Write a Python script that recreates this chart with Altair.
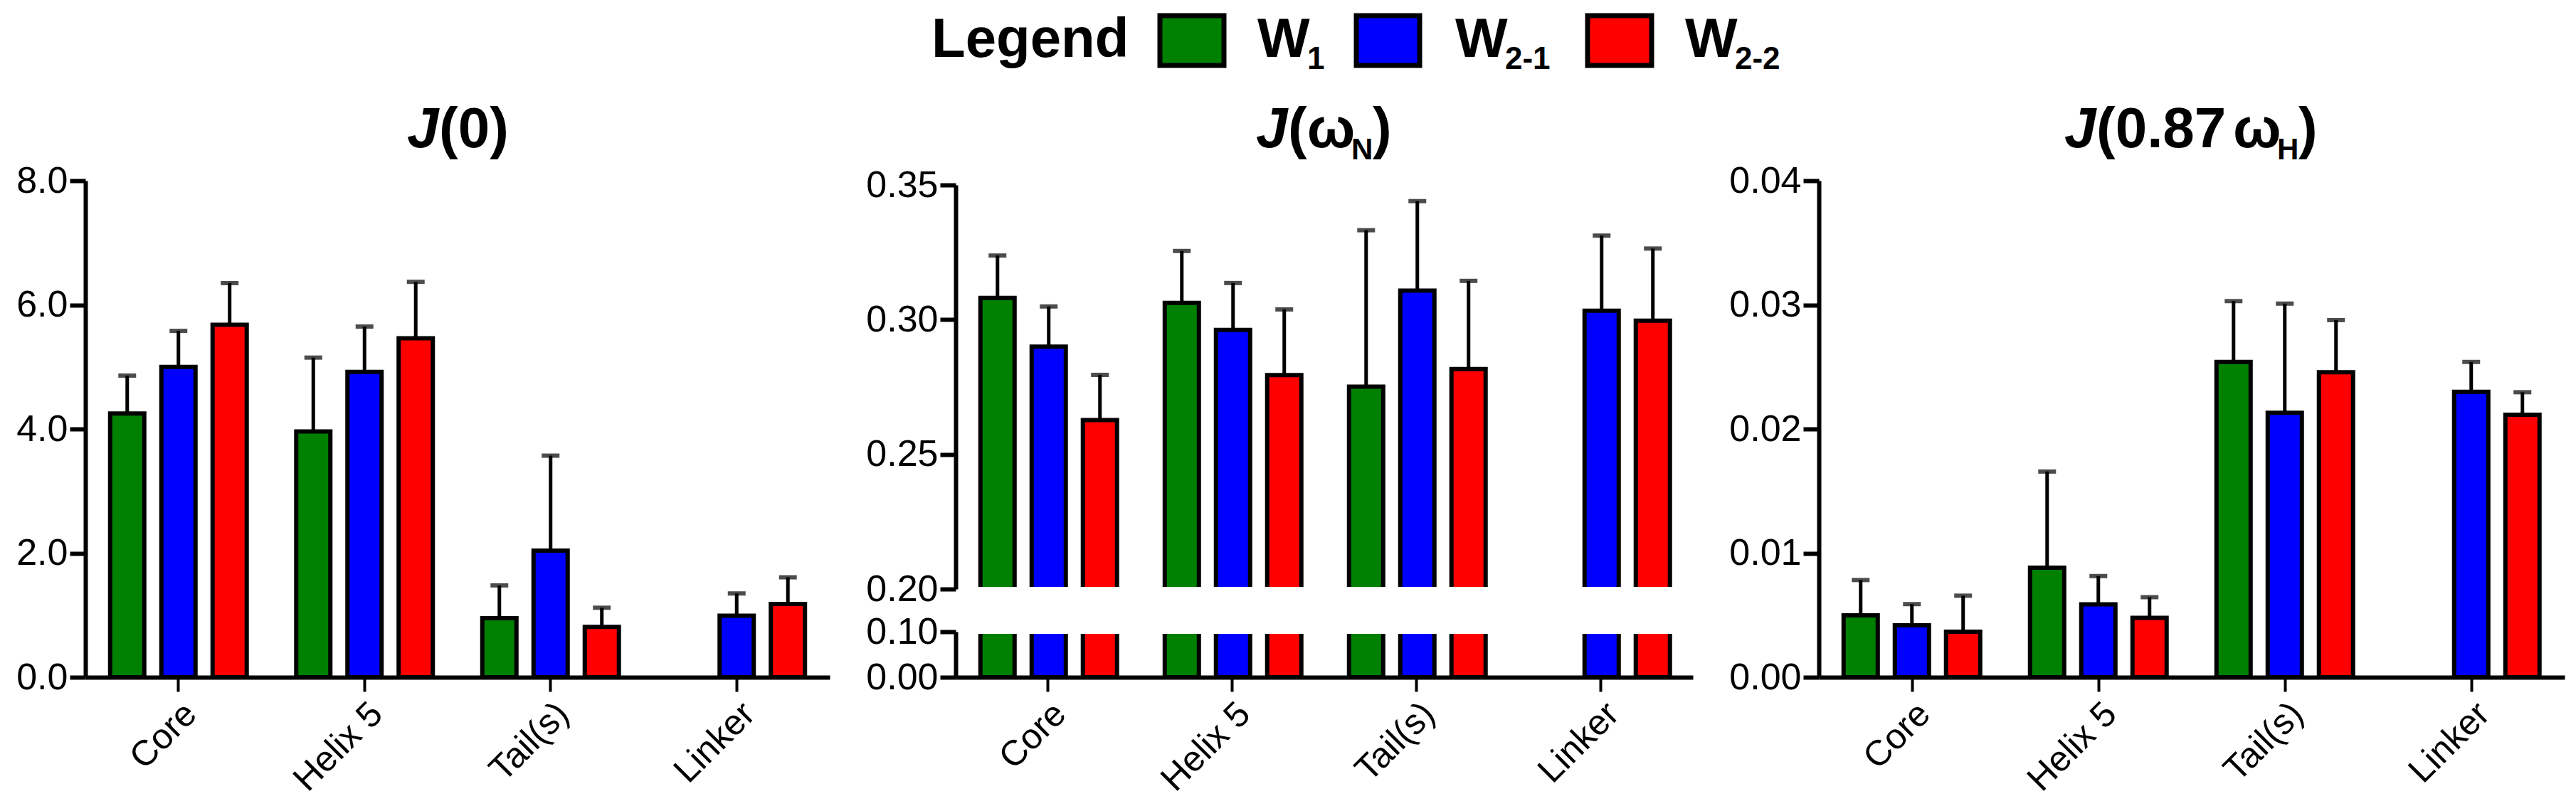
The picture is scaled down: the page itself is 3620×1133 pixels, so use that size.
import altair as alt
import pandas as pd

FONT = "Liberation Sans"

categories = ["Core", "Helix 5", "Tail(s)", "Linker"]
series = ["W1", "W2-1", "W2-2"]
colors = ["#008000", "#0000ff", "#ff0000"]

# J(0)
j0_w1 = [4.25, 3.96, 0.95, None]
j0_w1_err = [0.61, 1.19, 0.53, None]
j0_w21 = [5.00, 4.92, 2.04, 0.99]
j0_w21_err = [0.58, 0.73, 1.53, 0.36]
j0_w22 = [5.68, 5.46, 0.81, 1.18]
j0_w22_err = [0.67, 0.91, 0.31, 0.43]

# J(wN)
jn_w1 = [0.3081, 0.3062, 0.2751, None]
jn_w1_err = [0.0157, 0.0193, 0.0581, None]
jn_w21 = [0.2900, 0.2962, 0.3108, 0.3033]
jn_w21_err = [0.0149, 0.0174, 0.0332, 0.0279]
jn_w22 = [0.2627, 0.2794, 0.2817, 0.2996]
jn_w22_err = [0.0168, 0.0244, 0.0327, 0.0268]

# J(0.87 wH)
jh_w1 = [0.00499, 0.00883, 0.0254, None]
jh_w1_err = [0.00284, 0.00774, 0.0049, None]
jh_w21 = [0.00419, 0.00587, 0.0213, 0.0230]
jh_w21_err = [0.0017, 0.00228, 0.0088, 0.0024]
jh_w22 = [0.00367, 0.00478, 0.02457, 0.02114]
jh_w22_err = [0.0029, 0.00167, 0.0042, 0.00182]


def frame(vals, errs):
    rows = []
    for s, v, e in zip(series, vals, errs):
        for c, vv, ee in zip(categories, v, e):
            if vv is None:
                continue
            rows.append({"region": c, "series": s, "value": vv, "upper": vv + ee})
    return pd.DataFrame(rows)


df0 = frame([j0_w1, j0_w21, j0_w22], [j0_w1_err, j0_w21_err, j0_w22_err])
dfn = frame([jn_w1, jn_w21, jn_w22], [jn_w1_err, jn_w21_err, jn_w22_err])
dfh = frame([jh_w1, jh_w21, jh_w22], [jh_w1_err, jh_w21_err, jh_w22_err])

one = pd.DataFrame({"k": [0]})

x_axis = alt.Axis(title=None, labelAngle=-45, labelFontSize=50, labelFont=FONT,
                  labelColor="black", domainColor="black", domainWidth=6,
                  tickColor="black", tickWidth=4, tickSize=20, labelPadding=6,
                  grid=False)


def xenc():
    return alt.X("region:N", sort=categories,
                 scale=alt.Scale(domain=categories, paddingInner=0, paddingOuter=0),
                 axis=x_axis)


xo = alt.XOffset("series:N", sort=series,
                 scale=alt.Scale(domain=series, paddingInner=0.333, paddingOuter=0.483))
col = alt.Color("series:N", scale=alt.Scale(domain=series, range=colors), legend=None)


def yaxis(vals, fmt):
    return alt.Axis(title=None, values=vals, format=fmt, grid=False, orient="left",
                    labelFontSize=52, labelFont=FONT, labelColor="black",
                    domainColor="black", domainWidth=6, tickColor="black",
                    tickWidth=6, tickSize=22, labelPadding=3)


def txt(s, x, y, size, style="normal", align="left"):
    return alt.Chart(one).mark_text(
        text=s, font=FONT, fontSize=size, fontWeight="bold", fontStyle=style,
        align=align, baseline="alphabetic", color="black"
    ).encode(x=alt.value(x), y=alt.value(y))


def bar_layers(df, yscale, vals, fmt, y2zero=False, errors=True):
    y = alt.Y("value:Q", scale=yscale, axis=yaxis(vals, fmt))
    enc = dict(x=xenc(), xOffset=xo, y=y, color=col)
    if y2zero:
        enc["y2"] = alt.datum(0)
    layers = []
    if errors:
        rules = alt.Chart(df).mark_rule(color="black", strokeWidth=5).encode(
            x=xenc(), xOffset=xo, y=alt.Y("value:Q"), y2="upper:Q")
        caps = alt.Chart(df).mark_tick(color="black", thickness=6, size=25).encode(
            x=xenc(), xOffset=xo, y=alt.Y("upper:Q"))
        layers += [rules, caps]
    bars = alt.Chart(df).mark_bar(stroke="black", strokeWidth=6).encode(**enc)
    layers.append(bars)
    return layers


H = 698
TY = -47  # title baseline
SY = -30  # title subscript baseline

# Panel 1
W1 = 1046
l1 = bar_layers(df0, alt.Scale(domain=[0, 8], nice=False), [0, 2, 4, 6, 8], ".1f")
t1 = [txt("J", 452, TY, 80, "italic"), txt("(0)", 497, TY, 80)]
chart1 = alt.layer(*l1, *t1).properties(width=W1, height=H)

# Panel 2 (broken axis, one view with two y scales)
W2 = 1036
TOP_LO, TOP_HI = 574, 6
BOT_LO, BOT_HI = 698, 634
top_scale = alt.Scale(domain=[0.2, 0.35], range=[TOP_LO, TOP_HI], nice=False,
                      zero=False, clamp=True)
bot_scale = alt.Scale(domain=[0, 0.1], range=[BOT_LO, BOT_HI], nice=False, clamp=True)
top_layer = alt.layer(*bar_layers(dfn, top_scale, [0.2, 0.25, 0.3, 0.35], ".2f",
                                  y2zero=True))
bot_layer = alt.layer(*bar_layers(dfn, bot_scale, [0, 0.1], ".2f", errors=False))
gap = alt.Chart(one).mark_rect(fill="white").encode(
    x=alt.value(4), x2=alt.value(W2), y=alt.value(TOP_LO - 3),
    y2=alt.value(BOT_HI + 3))
t2 = [txt("J", 422, TY, 80, "italic"), txt("(ω", 467, TY, 80),
      txt("N", 556, SY, 42), txt(")", 586, TY, 80)]
legend_parts = [txt("Legend", -34, -174, 78)]
sw = [(287, 377), (563, 652), (888, 978)]
wx = [424, 702, 1025]
subs = ["1", "2-1", "2-2"]
for (a, b), c, w, s in zip(sw, colors, wx, subs):
    legend_parts.append(
        alt.Chart(one).mark_rect(fill=c, stroke="black", strokeWidth=7).encode(
            x=alt.value(a), x2=alt.value(b), y=alt.value(-232), y2=alt.value(-162)))
    legend_parts.append(txt("W", w, -174, 78))
    legend_parts.append(txt(s, w + 70, -157, 44))
chart2 = alt.layer(top_layer, bot_layer, gap, *t2, *legend_parts).resolve_scale(
    y="independent").properties(width=W2, height=H)

# Panel 3
W3 = 1048
l3 = bar_layers(dfh, alt.Scale(domain=[0, 0.04], nice=False),
                [0, 0.01, 0.02, 0.03, 0.04], ".2f")
t3 = [txt("J", 345, TY, 80, "italic"), txt("(0.87", 390, TY, 80),
      txt("ω", 582, TY, 80), txt("H", 644, SY, 42), txt(")", 674, TY, 80)]
chart3 = alt.layer(*l3, *t3).properties(width=W3, height=H)

chart = alt.hconcat(chart1, chart2, chart3, spacing=177, bounds="flush").properties(
    padding={"left": 14, "top": 10, "right": 5, "bottom": 5},
    background="white",
).configure_view(stroke=None)

chart.save("out.html", embed_options={"renderer": "svg", "actions": False})
